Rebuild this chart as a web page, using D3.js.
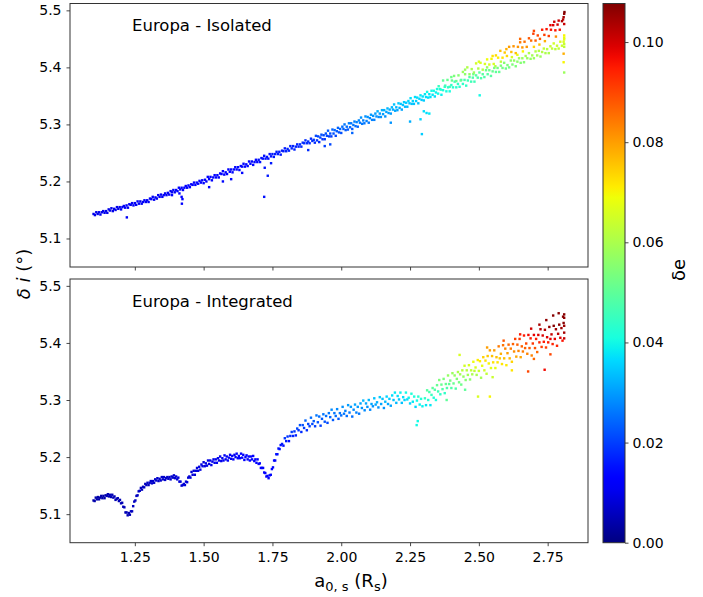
<!DOCTYPE html>
<html>
<head>
<meta charset="utf-8">
<script src="https://cdn.jsdelivr.net/npm/d3@7"></script>
<style>
  body { margin: 0; background: #fff; }
  text { font-family: "DejaVu Sans", sans-serif; }
</style>
</head>
<body>
<svg id="chart"></svg>
<script>
// points are [a0,s , delta i , delta e]
var isolatedPts = [
[1.100,5.143,.010],[1.105,5.141,.010],[1.110,5.146,.010],[1.115,5.143,.010],[1.120,5.146,.010],[1.125,5.142,.010],[1.130,5.146,.010],[1.135,5.148,.010],
[1.140,5.145,.010],[1.145,5.148,.010],[1.150,5.145,.010],[1.155,5.151,.010],[1.160,5.149,.010],[1.165,5.153,.010],[1.170,5.148,.010],[1.175,5.152,.010],
[1.180,5.150,.010],[1.185,5.155,.010],[1.190,5.152,.010],[1.195,5.155,.010],[1.200,5.151,.011],[1.205,5.155,.011],[1.210,5.157,.011],[1.215,5.154,.011],
[1.220,5.158,.011],[1.225,5.154,.011],[1.230,5.160,.011],[1.235,5.159,.011],[1.240,5.162,.011],[1.245,5.158,.011],[1.250,5.162,.011],[1.255,5.159,.011],
[1.260,5.165,.011],[1.265,5.161,.011],[1.270,5.165,.011],[1.275,5.161,.011],[1.280,5.164,.011],[1.285,5.167,.011],[1.290,5.164,.011],[1.295,5.167,.011],
[1.300,5.164,.011],[1.305,5.170,.011],[1.310,5.169,.011],[1.315,5.173,.011],[1.320,5.168,.011],[1.325,5.172,.011],[1.330,5.170,.011],[1.335,5.176,.011],
[1.340,5.173,.011],[1.345,5.177,.011],[1.350,5.173,.011],[1.355,5.176,.011],[1.360,5.179,.011],[1.365,5.176,.011],[1.370,5.180,.011],[1.375,5.177,.011],
[1.380,5.183,.011],[1.385,5.181,.011],[1.390,5.185,.011],[1.395,5.181,.011],[1.400,5.185,.012],[1.405,5.183,.012],[1.410,5.189,.012],[1.415,5.186,.012],
[1.420,5.189,.012],[1.425,5.185,.012],[1.430,5.189,.012],[1.435,5.192,.012],[1.440,5.189,.012],[1.445,5.193,.012],[1.450,5.190,.012],[1.455,5.195,.012],
[1.460,5.194,.012],[1.465,5.198,.012],[1.470,5.194,.012],[1.475,5.198,.012],[1.480,5.196,.012],[1.485,5.201,.012],[1.490,5.198,.012],[1.495,5.202,.012],
[1.500,5.197,.013],[1.505,5.203,.013],[1.510,5.200,.013],[1.515,5.208,.013],[1.520,5.204,.013],[1.525,5.208,.013],[1.530,5.202,.013],[1.535,5.207,.013],
[1.540,5.211,.013],[1.545,5.207,.013],[1.550,5.211,.013],[1.555,5.207,.013],[1.560,5.214,.013],[1.565,5.213,.013],[1.570,5.218,.013],[1.575,5.212,.013],
[1.580,5.216,.013],[1.585,5.213,.013],[1.590,5.221,.013],[1.595,5.217,.013],[1.600,5.221,.014],[1.605,5.216,.014],[1.610,5.221,.014],[1.615,5.225,.014],
[1.620,5.221,.014],[1.625,5.225,.014],[1.630,5.220,.014],[1.635,5.227,.014],[1.640,5.226,.014],[1.645,5.231,.014],[1.650,5.226,.014],[1.655,5.230,.014],
[1.660,5.227,.014],[1.665,5.235,.014],[1.670,5.231,.014],[1.675,5.235,.014],[1.680,5.229,.014],[1.685,5.234,.014],[1.690,5.238,.014],[1.695,5.234,.014],
[1.700,5.238,.015],[1.705,5.234,.015],[1.710,5.241,.015],[1.715,5.240,.015],[1.720,5.245,.015],[1.725,5.240,.015],[1.730,5.243,.015],[1.735,5.240,.015],
[1.740,5.248,.015],[1.745,5.244,.015],[1.750,5.248,.016],[1.755,5.243,.016],[1.760,5.248,.016],[1.765,5.252,.016],[1.770,5.248,.016],[1.775,5.252,.016],
[1.780,5.247,.016],[1.785,5.254,.016],[1.790,5.253,.016],[1.795,5.258,.016],[1.800,5.253,.017],[1.805,5.257,.017],[1.810,5.254,.017],[1.815,5.262,.017],
[1.820,5.258,.017],[1.825,5.262,.017],[1.830,5.256,.017],[1.835,5.261,.017],[1.840,5.265,.017],[1.845,5.261,.017],[1.850,5.265,.018],[1.855,5.261,.018],
[1.860,5.268,.018],[1.865,5.267,.018],[1.870,5.272,.018],[1.875,5.267,.018],[1.880,5.270,.018],[1.885,5.267,.018],[1.890,5.275,.018],[1.895,5.271,.018],
[1.900,5.273,.019],[1.904,5.268,.018],[1.908,5.280,.021],[1.912,5.272,.019],[1.916,5.279,.021],[1.920,5.269,.018],[1.924,5.277,.020],[1.928,5.282,.022],
[1.932,5.274,.019],[1.936,5.281,.021],[1.940,5.274,.019],[1.944,5.284,.022],[1.948,5.280,.021],[1.952,5.289,.023],[1.956,5.279,.020],[1.960,5.284,.022],
[1.964,5.279,.020],[1.968,5.291,.024],[1.972,5.284,.022],[1.976,5.290,.024],[1.980,5.280,.021],[1.984,5.288,.023],[1.988,5.294,.024],[1.992,5.286,.022],
[1.996,5.292,.024],[2.000,5.285,.022],[2.004,5.296,.025],[2.008,5.292,.024],[2.012,5.300,.026],[2.016,5.290,.023],[2.020,5.296,.025],[2.024,5.291,.023],
[2.028,5.302,.027],[2.032,5.295,.024],[2.036,5.302,.026],[2.040,5.292,.023],[2.044,5.299,.026],[2.048,5.305,.027],[2.052,5.297,.025],[2.056,5.304,.027],
[2.060,5.296,.024],[2.064,5.307,.028],[2.068,5.303,.026],[2.072,5.312,.029],[2.076,5.301,.026],[2.080,5.307,.027],[2.084,5.302,.026],[2.088,5.314,.029],
[2.092,5.306,.027],[2.096,5.313,.029],[2.100,5.303,.026],[2.104,5.311,.028],[2.108,5.317,.030],[2.112,5.308,.027],[2.116,5.315,.029],[2.120,5.308,.027],
[2.124,5.319,.030],[2.128,5.314,.029],[2.132,5.323,.032],[2.136,5.313,.028],[2.140,5.319,.030],[2.144,5.313,.029],[2.148,5.325,.032],[2.152,5.318,.030],
[2.156,5.325,.032],[2.160,5.314,.029],[2.164,5.322,.031],[2.168,5.328,.033],[2.172,5.320,.030],[2.176,5.326,.032],[2.180,5.319,.030],[2.184,5.330,.033],
[2.188,5.326,.032],[2.192,5.335,.034],[2.196,5.324,.031],[2.200,5.330,.033],[2.204,5.325,.031],[2.208,5.337,.035],[2.212,5.329,.032],[2.216,5.336,.034],
[2.220,5.326,.031],[2.224,5.334,.034],[2.228,5.339,.035],[2.232,5.331,.033],[2.236,5.338,.035],[2.240,5.331,.033],[2.244,5.341,.036],[2.248,5.337,.034],
[2.252,5.346,.037],[2.256,5.336,.034],[2.260,5.341,.036],[2.264,5.336,.034],[2.268,5.348,.037],[2.272,5.341,.035],[2.276,5.347,.037],[2.280,5.337,.034],
[2.284,5.345,.036],[2.288,5.351,.038],[2.292,5.343,.035],[2.296,5.349,.037],[2.300,5.342,.035],[2.304,5.353,.038],[2.308,5.348,.037],[2.312,5.357,.040],
[2.316,5.347,.037],[2.320,5.353,.038],[2.324,5.348,.037],[2.328,5.359,.040],[2.332,5.352,.038],[2.336,5.359,.040],[2.340,5.349,.037],[2.344,5.356,.039],
[2.348,5.362,.041],
// lower branch
[2.352,5.354,.040],[2.358,5.362,.042],[2.364,5.352,.039],[2.370,5.360,.041],[2.376,5.366,.043],[2.382,5.358,.041],[2.388,5.365,.043],[2.394,5.358,.041],
[2.400,5.369,.044],[2.406,5.365,.043],[2.412,5.375,.046],[2.418,5.365,.043],[2.424,5.371,.044],[2.430,5.366,.043],[2.436,5.378,.047],[2.442,5.371,.044],
[2.448,5.378,.047],[2.454,5.368,.044],[2.460,5.377,.046],[2.466,5.383,.048],[2.472,5.375,.046],[2.478,5.382,.048],[2.484,5.375,.046],[2.490,5.386,.049],
[2.496,5.382,.048],[2.502,5.391,.050],[2.508,5.381,.048],[2.514,5.388,.049],[2.520,5.383,.048],[2.526,5.395,.051],[2.532,5.388,.049],[2.538,5.395,.052],
[2.544,5.385,.049],[2.550,5.393,.051],[2.556,5.399,.053],[2.562,5.392,.050],[2.568,5.399,.053],[2.574,5.392,.051],[2.580,5.403,.054],[2.586,5.399,.053],
[2.592,5.408,.055],[2.598,5.398,.052],[2.604,5.404,.054],[2.610,5.400,.053],[2.616,5.412,.056],[2.622,5.405,.054],[2.628,5.412,.057],[2.634,5.402,.054],
[2.640,5.410,.056],[2.646,5.416,.058],[2.652,5.408,.055],[2.658,5.416,.058],[2.664,5.409,.055],[2.670,5.420,.059],[2.676,5.416,.058],[2.682,5.425,.060],
[2.688,5.415,.057],[2.694,5.421,.059],[2.700,5.416,.058],[2.706,5.428,.061],[2.712,5.421,.059],[2.718,5.429,.061],[2.724,5.419,.058],[2.730,5.427,.061],
[2.736,5.433,.063],[2.742,5.425,.060],[2.748,5.432,.062],[2.754,5.425,.060],[2.760,5.437,.064],[2.766,5.433,.063],[2.772,5.442,.065],[2.778,5.432,.062],
[2.784,5.438,.064],[2.790,5.433,.063],[2.796,5.445,.066],[2.802,5.438,.064],[2.808,5.445,.066],
[2.810,5.441,.064],[2.810,5.449,.067],[2.810,5.452,.068],[2.810,5.456,.070],[2.810,5.436,.063],
// between the branches
[2.480,5.388,.052],[2.530,5.400,.058],[2.560,5.402,.060],[2.580,5.410,.062],[2.620,5.418,.066],[2.640,5.422,.068],[2.660,5.428,.070],
[2.700,5.436,.074],[2.720,5.440,.076],[2.740,5.446,.078],[2.780,5.454,.082],
// upper branch
[2.354,5.367,.045],[2.362,5.361,.043],[2.370,5.377,.050],[2.378,5.368,.046],[2.386,5.378,.051],[2.394,5.366,.046],[2.402,5.377,.051],[2.410,5.385,.054],
[2.418,5.376,.051],[2.426,5.386,.055],[2.434,5.377,.051],[2.442,5.392,.058],[2.450,5.388,.056],[2.458,5.400,.061],[2.466,5.388,.057],[2.474,5.397,.060],
[2.482,5.391,.058],[2.490,5.407,.065],[2.498,5.398,.061],[2.506,5.408,.066],[2.514,5.396,.061],[2.522,5.406,.066],[2.530,5.414,.069],[2.538,5.405,.066],
[2.546,5.415,.070],[2.554,5.406,.066],[2.562,5.421,.073],[2.570,5.417,.071],[2.578,5.429,.076],[2.586,5.417,.072],[2.594,5.426,.075],[2.602,5.420,.073],
[2.610,5.436,.080],[2.618,5.427,.076],[2.626,5.437,.081],[2.634,5.425,.076],[2.642,5.436,.081],[2.650,5.444,.084],[2.658,5.435,.081],[2.666,5.445,.085],
[2.674,5.436,.081],[2.682,5.451,.088],[2.690,5.447,.086],[2.698,5.459,.091],[2.706,5.447,.087],[2.714,5.456,.090],[2.722,5.450,.088],[2.730,5.466,.095],
[2.738,5.457,.091],[2.746,5.467,.096],[2.754,5.455,.091],[2.762,5.466,.096],[2.770,5.474,.099],[2.778,5.465,.096],[2.786,5.475,.100],[2.794,5.466,.096],
[2.802,5.481,.103],[2.810,5.476,.101],
[2.808,5.488,.104],[2.810,5.494,.106],[2.811,5.497,.1077],[2.806,5.484,.103],[2.790,5.482,.101],[2.774,5.480,.100],[2.760,5.474,.098],
[2.700,5.464,.090],[2.650,5.450,.086],[2.600,5.432,.078],[2.550,5.420,.072],[2.500,5.410,.066],[2.450,5.396,.058],[2.400,5.383,.052],
// stray points
[1.221,5.137,.011],[1.412,5.179,.012],[1.420,5.173,.012],[1.423,5.169,.012],[1.421,5.161,.012],[1.385,5.176,.012],[1.520,5.190,.013],[1.570,5.200,.014],
[1.600,5.204,.014],[1.640,5.215,.014],[1.720,5.173,.015],[1.733,5.210,.016],[1.722,5.224,.015],[1.745,5.232,.016],[1.880,5.255,.018],[1.940,5.262,.020],
[1.960,5.265,.021],[2.040,5.285,.024],[2.180,5.303,.029],[2.250,5.305,.032],[2.293,5.283,.035],[2.288,5.309,.036],[2.300,5.323,.037],[2.310,5.320,.037],
[2.320,5.319,.038],[2.503,5.351,.040],[2.808,5.424,.078],[2.808,5.409,.070],[2.810,5.391,.058]
];

var integratedPts = [
[1.100,5.124,.004],[1.104,5.123,.004],[1.108,5.129,.004],[1.112,5.126,.004],[1.116,5.130,.004],[1.120,5.126,.004],[1.124,5.129,.004],[1.128,5.132,.004],
[1.132,5.128,.004],[1.136,5.132,.004],[1.140,5.128,.004],[1.144,5.133,.004],[1.148,5.132,.005],[1.152,5.135,.005],[1.156,5.131,.005],[1.160,5.134,.005],
[1.164,5.130,.005],[1.168,5.134,.005],[1.172,5.129,.005],[1.176,5.131,.005],[1.180,5.125,.005],[1.184,5.127,.005],[1.188,5.128,.005],[1.192,5.123,.005],
[1.196,5.125,.005],[1.200,5.119,.005],[1.204,5.120,.005],[1.208,5.113,.005],[1.212,5.112,.005],[1.216,5.103,.005],[1.220,5.103,.005],[1.224,5.098,.005],
[1.228,5.102,.005],[1.232,5.099,.005],[1.236,5.105,.006],[1.240,5.105,.006],[1.244,5.114,.006],[1.248,5.122,.006],[1.252,5.124,.006],[1.256,5.132,.006],
[1.260,5.133,.006],[1.264,5.140,.006],[1.268,5.141,.006],[1.272,5.146,.006],[1.276,5.143,.006],[1.280,5.148,.006],[1.284,5.147,.006],[1.288,5.153,.006],
[1.292,5.151,.006],[1.296,5.155,.006],[1.300,5.151,.006],[1.304,5.155,.007],[1.308,5.158,.007],[1.312,5.154,.007],[1.316,5.158,.007],[1.320,5.155,.007],
[1.324,5.161,.007],[1.328,5.159,.007],[1.332,5.163,.007],[1.336,5.158,.007],[1.340,5.162,.007],[1.344,5.159,.007],[1.348,5.165,.007],[1.352,5.161,.007],
[1.356,5.165,.007],[1.360,5.160,.007],[1.364,5.163,.007],[1.368,5.165,.007],[1.372,5.162,.007],[1.376,5.165,.007],[1.380,5.161,.007],[1.384,5.166,.007],
[1.388,5.164,.007],[1.392,5.168,.007],[1.396,5.163,.007],[1.400,5.166,.008],[1.404,5.161,.008],[1.408,5.164,.008],[1.412,5.157,.008],[1.416,5.157,.008],
[1.420,5.150,.008],[1.424,5.151,.008],[1.428,5.153,.008],[1.432,5.151,.008],[1.436,5.157,.008],[1.440,5.156,.008],[1.444,5.164,.008],
[1.448,5.166,.008],[1.452,5.164,.008],[1.456,5.174,.008],[1.460,5.169,.008],[1.464,5.176,.008],[1.468,5.169,.008],[1.472,5.176,.008],[1.476,5.181,.009],
[1.480,5.176,.009],[1.484,5.183,.009],[1.488,5.178,.009],[1.492,5.187,.009],[1.496,5.184,.009],[1.500,5.191,.009],[1.504,5.184,.009],[1.508,5.189,.009],
[1.512,5.185,.009],[1.516,5.194,.009],[1.520,5.188,.009],[1.524,5.194,.010],[1.528,5.186,.010],[1.532,5.192,.010],[1.536,5.196,.010],[1.540,5.190,.010],
[1.544,5.196,.010],[1.548,5.190,.010],[1.552,5.198,.010],[1.556,5.194,.010],[1.560,5.201,.010],[1.564,5.193,.010],[1.568,5.198,.010],[1.572,5.194,.011],
[1.576,5.203,.011],[1.580,5.196,.011],[1.584,5.201,.011],[1.588,5.194,.011],[1.592,5.199,.011],[1.596,5.204,.011],[1.600,5.197,.011],[1.604,5.202,.011],
[1.608,5.196,.011],[1.612,5.204,.011],[1.616,5.200,.011],[1.620,5.206,.011],[1.624,5.198,.012],[1.628,5.202,.012],[1.632,5.198,.012],[1.636,5.206,.012],
[1.640,5.199,.012],[1.644,5.204,.012],[1.648,5.195,.012],[1.652,5.200,.012],[1.656,5.203,.012],[1.660,5.196,.012],[1.664,5.201,.012],[1.668,5.194,.012],
[1.672,5.201,.012],[1.676,5.196,.012],[1.680,5.202,.012],[1.684,5.193,.013],[1.688,5.196,.013],[1.692,5.190,.013],[1.696,5.196,.013],[1.700,5.188,.013],
[1.704,5.189,.013],[1.708,5.181,.013],[1.712,5.181,.013],[1.716,5.181,.013],[1.720,5.173,.013],[1.724,5.172,.013],[1.728,5.166,.013],[1.732,5.167,.013],
[1.736,5.163,.013],[1.740,5.168,.014],[1.744,5.169,.014],[1.748,5.179,.014],[1.752,5.182,.014],[1.756,5.194,.014],[1.760,5.194,.014],[1.764,5.205,.015],
[1.768,5.205,.015],[1.772,5.215,.015],[1.776,5.214,.015],[1.780,5.221,.015],
[1.785,5.223,.016],[1.790,5.220,.015],[1.795,5.233,.019],[1.800,5.228,.016],[1.805,5.236,.019],[1.810,5.228,.015],[1.815,5.237,.018],[1.820,5.244,.020],
[1.825,5.237,.017],[1.830,5.245,.019],[1.835,5.238,.017],[1.840,5.250,.021],[1.845,5.247,.019],[1.850,5.256,.022],[1.855,5.244,.018],[1.860,5.256,.022],
[1.865,5.251,.020],[1.870,5.264,.024],[1.875,5.247,.018],[1.880,5.258,.021],[1.885,5.254,.020],[1.890,5.269,.025],[1.895,5.258,.021],[1.900,5.263,.023],
[1.905,5.254,.020],[1.910,5.273,.026],[1.915,5.261,.022],[1.920,5.271,.025],[1.925,5.255,.020],[1.930,5.267,.023],[1.935,5.275,.026],[1.940,5.262,.022],
[1.945,5.272,.025],[1.950,5.260,.021],[1.955,5.277,.026],[1.960,5.270,.024],[1.965,5.283,.028],[1.970,5.265,.023],[1.975,5.277,.026],[1.980,5.272,.025],
[1.985,5.284,.028],[1.990,5.267,.023],[1.995,5.277,.026],[2.000,5.273,.025],[2.005,5.288,.029],[2.010,5.276,.026],[2.015,5.281,.027],[2.020,5.272,.025],
[2.025,5.291,.030],[2.030,5.278,.026],[2.035,5.288,.030],[2.040,5.271,.025],[2.045,5.283,.028],[2.050,5.292,.031],[2.055,5.278,.027],[2.060,5.288,.030],
[2.065,5.276,.026],[2.070,5.294,.031],[2.075,5.286,.029],[2.080,5.299,.033],[2.085,5.282,.028],[2.090,5.294,.031],[2.095,5.288,.029],[2.100,5.300,.033],
[2.105,5.283,.028],[2.110,5.293,.031],[2.115,5.289,.029],[2.120,5.303,.034],[2.125,5.292,.031],[2.130,5.296,.032],[2.135,5.287,.029],[2.140,5.305,.035],
[2.145,5.293,.031],[2.150,5.302,.034],[2.155,5.286,.029],[2.160,5.297,.033],[2.165,5.306,.036],[2.170,5.293,.031],[2.175,5.302,.035],[2.180,5.290,.031],
[2.185,5.308,.037],[2.190,5.300,.034],[2.195,5.313,.038],[2.200,5.295,.033],[2.205,5.307,.037],[2.210,5.301,.035],[2.215,5.313,.039],[2.220,5.295,.034],
[2.225,5.305,.037],[2.230,5.300,.036],[2.235,5.313,.040],[2.240,5.301,.037],[2.245,5.304,.039],[2.250,5.294,.036],[2.255,5.311,.042],[2.260,5.297,.038],
[2.265,5.306,.041],[2.270,5.288,.036],[2.275,5.299,.040],[2.280,5.306,.043],[2.285,5.292,.039],[2.290,5.302,.042],[2.295,5.289,.039],
[2.304,5.303,.044],[2.308,5.291,.038],[2.312,5.317,.049],[2.316,5.300,.042],[2.320,5.314,.047],[2.324,5.291,.038],[2.328,5.309,.045],[2.332,5.321,.050],
[2.336,5.304,.042],[2.340,5.318,.048],[2.344,5.300,.041],[2.348,5.326,.051],[2.352,5.315,.046],[2.356,5.335,.054],[2.360,5.310,.044],[2.364,5.327,.051],
[2.368,5.319,.048],[2.372,5.337,.054],[2.376,5.312,.044],[2.380,5.328,.051],[2.384,5.321,.048],[2.388,5.343,.057],[2.392,5.328,.050],[2.396,5.334,.053],
[2.400,5.321,.048],[2.404,5.347,.058],[2.408,5.329,.051],[2.412,5.343,.057],[2.416,5.320,.048],[2.420,5.337,.055],[2.424,5.349,.060],[2.428,5.331,.053],
[2.432,5.345,.059],[2.436,5.327,.052],[2.440,5.352,.062],[2.444,5.341,.057],[2.448,5.360,.065],[2.452,5.335,.055],[2.456,5.352,.062],[2.460,5.344,.059],
[2.464,5.361,.066],[2.468,5.336,.056],[2.472,5.352,.063],[2.476,5.345,.060],[2.480,5.367,.069],[2.484,5.351,.063],[2.488,5.357,.066],[2.492,5.344,.060],
[2.496,5.370,.071],[2.500,5.351,.064],[2.504,5.368,.071],[2.508,5.339,.059],[2.512,5.360,.068],[2.516,5.375,.074],[2.520,5.352,.065],[2.524,5.369,.072],
[2.528,5.346,.063],[2.532,5.377,.075],[2.536,5.364,.070],[2.540,5.387,.080],[2.544,5.356,.067],[2.548,5.377,.076],[2.552,5.366,.072],[2.556,5.387,.080],
[2.560,5.356,.068],[2.564,5.375,.076],[2.568,5.366,.072],[2.572,5.394,.084],[2.576,5.373,.075],[2.580,5.381,.078],[2.584,5.363,.072],[2.588,5.396,.085],
[2.592,5.373,.076],[2.596,5.390,.083],[2.600,5.361,.071],[2.604,5.382,.080],[2.608,5.397,.086],[2.612,5.373,.077],[2.616,5.390,.084],[2.620,5.367,.074],
[2.624,5.398,.087],[2.628,5.385,.082],[2.632,5.407,.091],[2.636,5.376,.079],[2.640,5.397,.087],[2.644,5.386,.083],[2.648,5.407,.092],[2.652,5.375,.079],
[2.656,5.394,.087],[2.660,5.385,.084],[2.664,5.413,.095],[2.668,5.391,.087],[2.672,5.399,.090],[2.676,5.381,.083],[2.680,5.414,.097],[2.684,5.391,.088],
[2.688,5.408,.095],[2.692,5.378,.083],[2.696,5.399,.092],[2.700,5.414,.098],[2.704,5.391,.089],[2.708,5.407,.095],[2.712,5.384,.086],[2.716,5.414,.099],
[2.720,5.401,.094],[2.724,5.424,.103],[2.728,5.393,.091],[2.732,5.413,.099],[2.736,5.402,.095],[2.740,5.423,.103],[2.744,5.392,.091],[2.748,5.410,.099],
[2.752,5.401,.095],[2.756,5.428,.106],[2.760,5.407,.098],[2.764,5.415,.101],[2.768,5.398,.094],[2.772,5.430,.107],[2.776,5.407,.098],[2.780,5.424,.105],
[2.784,5.395,.094],[2.788,5.416,.102],[2.792,5.432,.107],[2.796,5.409,.099],[2.800,5.426,.105],[2.804,5.404,.096],[2.808,5.435,.107],
[2.810,5.444,.106],[2.810,5.450,.107],[2.810,5.418,.104],[2.810,5.408,.101],[2.810,5.430,.105],[2.806,5.446,.107],
[2.770,5.448,.107],[2.745,5.440,.106],[2.790,5.452,.107],[2.720,5.432,.104],[2.690,5.425,.100],[2.650,5.415,.095],[2.590,5.404,.088],[2.530,5.392,.080],
[2.760,5.380,.090],[2.700,5.372,.086],[2.620,5.352,.072],[2.550,5.340,.064],[2.450,5.318,.050],
// stray points
[2.274,5.256,.040],[2.278,5.263,.040],[2.430,5.379,.066],[2.497,5.306,.066],[2.540,5.306,.070],[2.383,5.300,.050],[2.679,5.350,.090],[2.739,5.353,.097]
];

var panelTitles = ["Europa - Isolated", "Europa - Integrated"];
var xTicks = [1.25, 1.50, 1.75, 2.00, 2.25, 2.50, 2.75];
var yTicks = [5.1, 5.2, 5.3, 5.4, 5.5];
var cbTicks = [0.00, 0.02, 0.04, 0.06, 0.08, 0.10];
var yLimits = [5.05, 5.512];

var width = 703, height = 597;
var left = 70, right = 588;
var panels = [{top: 3.5, bottom: 267, pts: isolatedPts, title: panelTitles[0]},
              {top: 279, bottom: 542.7, pts: integratedPts, title: panelTitles[1]}];

var svg = d3.select('#chart').attr('width', width).attr('height', height);
svg.append('rect').attr('width', width).attr('height', height).attr('fill', '#fff');

// matplotlib "jet"
var jr = d3.scaleLinear().domain([0, .35, .66, .89, 1]).range([0, 0, 1, 1, .5]).clamp(true);
var jg = d3.scaleLinear().domain([0, .125, .375, .64, .91, 1]).range([0, 0, 1, 1, 0, 0]).clamp(true);
var jb = d3.scaleLinear().domain([0, .11, .34, .65, 1]).range([.5, 1, 1, 0, 0]).clamp(true);
function jet(t) { return d3.rgb(jr(t) * 255, jg(t) * 255, jb(t) * 255).toString(); }

// x extent with 5% margin, like matplotlib
var allPts = isolatedPts.concat(integratedPts);
var ext = d3.extent(allPts, function(d){ return d[0]; });
var pad = (ext[1] - ext[0]) * 0.05;
var xScale = d3.scaleLinear().domain([ext[0] - pad, ext[1] + pad]).range([left, right]);

var eMax = d3.max(allPts, function(d){ return d[2]; });
var cScale = d3.scaleLinear().domain([0, eMax]).range([0, 1]).clamp(true);

var ms = 2.4; // marker size
panels.forEach(function(p, k){
    var yScale = d3.scaleLinear().domain(yLimits).range([p.bottom, p.top]);

    svg.append('g').selectAll('rect').data(p.pts).enter().append('rect')
        .attr('x', function(d){ return xScale(d[0]) - ms / 2; })
        .attr('y', function(d){ return yScale(d[1]) - ms / 2; })
        .attr('width', ms).attr('height', ms)
        .attr('fill', function(d){ return jet(cScale(d[2])); });

    var yAxis = d3.axisLeft(yScale).tickValues(yTicks).tickFormat(d3.format('.1f')).tickSize(3.5).tickPadding(5);
    var ga = svg.append('g').attr('transform', 'translate(' + left + ',0)').call(yAxis);
    ga.select('.domain').remove();

    var xAxis = d3.axisBottom(xScale).tickValues(xTicks).tickSize(3.5).tickPadding(5.5)
        .tickFormat(k == 1 ? d3.format('.2f') : '');
    var gx = svg.append('g').attr('transform', 'translate(0,' + p.bottom + ')').call(xAxis);
    gx.select('.domain').remove();

    [ga, gx].forEach(function(a){
        a.selectAll('text').style('font-size', '14px').style('font-family', '"DejaVu Sans"').attr('fill', '#000');
        a.selectAll('line').attr('stroke', '#333').attr('stroke-width', 0.9);
    });

    svg.append('rect')
        .attr('x', left).attr('y', p.top)
        .attr('width', right - left).attr('height', p.bottom - p.top)
        .attr('fill', 'none').attr('stroke', '#333').attr('stroke-width', 1);

    svg.append('text')
        .attr('x', 132).attr('y', p.top + 27.5)
        .style('font-size', '16.5px')
        .text(p.title);
});

// colorbar
var cbX = 603, cbW = 22, cbTop = 3.5, cbBottom = 542.7;
var grad = svg.append('defs').append('linearGradient').attr('id', 'jetgrad')
    .attr('x1', 0).attr('y1', 1).attr('x2', 0).attr('y2', 0);
d3.range(0, 1.0001, 0.02).forEach(function(t){
    grad.append('stop').attr('offset', t).attr('stop-color', jet(t));
});
svg.append('rect').attr('x', cbX).attr('y', cbTop).attr('width', cbW).attr('height', cbBottom - cbTop)
    .attr('fill', 'url(#jetgrad)').attr('stroke', '#333').attr('stroke-width', 1);

var cbScale = d3.scaleLinear().domain([0, eMax]).range([cbBottom, cbTop]);
var cbAxis = d3.axisRight(cbScale).tickValues(cbTicks).tickFormat(d3.format('.2f')).tickSize(3.5).tickPadding(4);
var gc = svg.append('g').attr('transform', 'translate(' + (cbX + cbW) + ',0)').call(cbAxis);
gc.select('.domain').remove();
gc.selectAll('text').style('font-size', '14px').style('font-family', '"DejaVu Sans"').attr('fill', '#000');
gc.selectAll('line').attr('stroke', '#333').attr('stroke-width', 0.9);

svg.append('text')
    .attr('transform', 'translate(685,270) rotate(-90)')
    .attr('text-anchor', 'middle')
    .style('font-size', '18px')
    .text('δe');

// y label
var yl = svg.append('text')
    .attr('transform', 'translate(30,274) rotate(-90)')
    .attr('text-anchor', 'middle')
    .style('font-size', '18px');
yl.append('tspan').style('font-style', 'italic').text('δ i');
yl.append('tspan').text(' (°)');

// x label
var xl = svg.append('text')
    .attr('x', 351).attr('y', 587)
    .attr('text-anchor', 'middle')
    .style('font-size', '18px');
xl.append('tspan').text('a');
xl.append('tspan').attr('dy', 4).style('font-size', '13px').text('0, s');
xl.append('tspan').attr('dy', -4).text(' (R');
xl.append('tspan').attr('dy', 4).style('font-size', '13px').text('s');
xl.append('tspan').attr('dy', -4).text(')');
</script>
</body>
</html>
